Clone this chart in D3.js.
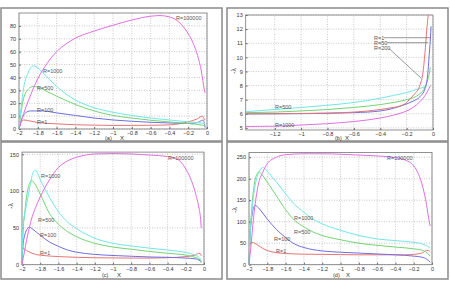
<!DOCTYPE html>
<html><head><meta charset="utf-8">
<script src="https://cdn.jsdelivr.net/npm/d3@7/dist/d3.min.js"></script>
<style>body{margin:0;background:#fff}svg{display:block}text{font-family:"Liberation Sans",Arial,sans-serif}</style>
</head><body><svg id="c" width="450" height="284"></svg>
<script>
// ---------- DATA ----------
const xTicksFull = [-2,-1.8,-1.6,-1.4,-1.2,-1,-0.8,-0.6,-0.4,-0.2,0];
const xTicksB = [-1.2,-1,-0.8,-0.6,-0.4,-0.2,0];
const yTicksA = [0,10,20,30,40,50,60,70,80];
const yTicksB = [5,6,7,8,9,10,11,12,13];
const yTicksC = [0,50,100,150];
const yTicksD = [0,50,100,150,200,250];

// panel (a)
const aR100000 = [[-2,0],[-1.95,12],[-1.9,22],[-1.85,31],[-1.8,39],[-1.7,51],[-1.6,60],[-1.5,66],[-1.4,70.5],[-1.2,76],[-1,80.5],[-0.8,84.5],[-0.6,87.5],[-0.5,88],[-0.4,87],[-0.3,83],[-0.2,74],[-0.15,67],[-0.1,57],[-0.06,45],[-0.03,31],[-0.02,28]];
const aR1000 = [[-2,0],[-1.98,15],[-1.95,32],[-1.9,44],[-1.85,49],[-1.82,48.5],[-1.75,44],[-1.6,33],[-1.4,22.5],[-1.2,16.5],[-1,13],[-0.8,10.5],[-0.6,8.5],[-0.4,7],[-0.2,5.5],[-0.05,4.5],[-0.02,4]];
const aR500 = [[-2,0],[-1.98,12],[-1.95,24],[-1.9,31],[-1.85,33],[-1.8,32.5],[-1.7,29],[-1.6,25.5],[-1.4,19],[-1.2,14],[-1,10.5],[-0.8,8.5],[-0.6,6.8],[-0.4,5.5],[-0.2,4.2],[-0.05,3],[-0.02,2.5]];
const aR100 = [[-2,0],[-1.97,8],[-1.93,12.5],[-1.88,14],[-1.75,14],[-1.6,12.5],[-1.4,10.5],[-1.2,8.5],[-1,7],[-0.8,6],[-0.6,5.2],[-0.4,4.7],[-0.2,4.3],[-0.1,5],[-0.06,6.5],[-0.04,7],[-0.02,1]];
const aR1 = [[-2,0],[-1.98,5],[-1.95,7],[-1.9,6.5],[-1.8,5],[-1.6,4],[-1.4,3.3],[-1.2,3],[-1,2.8],[-0.8,2.8],[-0.6,2.9],[-0.4,3.2],[-0.3,4],[-0.2,5.5],[-0.1,8],[-0.05,10],[-0.03,8],[-0.02,7]];

// panel (b)
const bR1 = [[-1.42,6.0],[-1.2,6.0],[-1,6.02],[-0.8,6.05],[-0.6,6.12],[-0.4,6.3],[-0.3,6.45],[-0.25,6.55],[-0.2,6.8],[-0.18,7],[-0.14,7.4],[-0.1,8],[-0.075,9],[-0.055,11],[-0.045,12.2],[-0.036,13]];
const bR50 = [[-1.42,5.99],[-1,6.01],[-0.6,6.08],[-0.4,6.2],[-0.2,6.7],[-0.15,6.9],[-0.1,7.2],[-0.06,7.8],[-0.04,8.8],[-0.03,10],[-0.02,11.3],[-0.015,12.2]];
const bR200 = [[-1.42,6.08],[-1.2,6.12],[-1,6.2],[-0.8,6.3],[-0.6,6.45],[-0.4,6.65],[-0.3,6.8],[-0.2,7.0],[-0.1,7.4],[-0.06,7.9],[-0.04,8.4],[-0.025,9.0],[-0.02,9.3]];
const bR500 = [[-1.42,6.15],[-1.2,6.3],[-1,6.45],[-0.8,6.6],[-0.6,6.8],[-0.4,7.1],[-0.3,7.3],[-0.2,7.5],[-0.15,7.65],[-0.1,7.8],[-0.05,7.95]];
const bR1000 = [[-1.42,5.1],[-1.2,5.12],[-1,5.2],[-0.8,5.3],[-0.6,5.45],[-0.4,5.7],[-0.3,5.9],[-0.2,6.2],[-0.15,6.45],[-0.1,6.85],[-0.06,7.3],[-0.03,7.8],[-0.02,8.0]];

// panel (c)
const cR100000 = [[-2,0],[-1.97,20],[-1.93,45],[-1.9,60],[-1.85,78],[-1.8,92],[-1.7,115],[-1.6,132],[-1.5,141],[-1.4,146],[-1.3,149],[-1.2,150.5],[-1,151],[-0.8,150.5],[-0.6,149],[-0.4,147],[-0.3,144],[-0.25,139],[-0.2,130],[-0.15,118],[-0.1,100],[-0.06,80],[-0.04,65],[-0.03,50]];
const cR1000 = [[-2,0],[-1.99,50],[-1.98,62],[-1.96,75],[-1.93,95],[-1.9,115],[-1.87,127],[-1.85,128],[-1.82,122],[-1.8,116],[-1.7,92],[-1.6,72],[-1.5,58],[-1.4,49],[-1.2,36],[-1,29],[-0.8,25.5],[-0.6,22.5],[-0.4,20],[-0.2,16.5],[-0.1,13],[-0.04,8],[-0.03,6]];
const cR500 = [[-2,0],[-1.99,40],[-1.97,70],[-1.94,100],[-1.91,112],[-1.89,114],[-1.86,110],[-1.8,96],[-1.7,70],[-1.6,55],[-1.5,45],[-1.4,38],[-1.2,29],[-1,24],[-0.8,21],[-0.6,18],[-0.4,15.5],[-0.2,13],[-0.1,10],[-0.04,6],[-0.03,4]];
const cR100 = [[-2,0],[-1.99,25],[-1.97,40],[-1.94,49],[-1.92,51],[-1.88,48],[-1.8,40],[-1.7,31],[-1.6,25],[-1.5,20],[-1.4,17],[-1.2,14],[-1,12.5],[-0.8,11.5],[-0.6,10.5],[-0.4,10],[-0.2,9],[-0.1,8],[-0.04,5],[-0.03,3]];
const cR1 = [[-2,0],[-1.99,23],[-1.97,21],[-1.93,18],[-1.85,14],[-1.8,13],[-1.6,11],[-1.4,10],[-1.2,9.5],[-1,9.2],[-0.8,9],[-0.6,9],[-0.4,9.5],[-0.2,11],[-0.1,13],[-0.06,15.5],[-0.04,15],[-0.03,12]];

// panel (d)
const dR100000 = [[-2,0],[-1.98,40],[-1.95,110],[-1.92,160],[-1.9,185],[-1.85,215],[-1.8,235],[-1.7,250],[-1.6,256],[-1.4,258],[-1.2,258],[-1,257],[-0.8,255],[-0.6,253],[-0.4,249],[-0.3,244],[-0.2,230],[-0.15,212],[-0.1,180],[-0.06,140],[-0.03,100],[-0.02,90]];
const dR1000 = [[-2,0],[-1.99,60],[-1.97,120],[-1.94,175],[-1.91,205],[-1.88,220],[-1.85,226],[-1.82,222],[-1.78,212],[-1.7,192],[-1.6,165],[-1.5,140],[-1.4,122],[-1.3,106],[-1.2,95],[-1,80],[-0.8,68],[-0.6,60],[-0.4,56],[-0.2,52],[-0.1,48],[-0.04,42],[-0.02,40]];
const dR500 = [[-2,0],[-1.99,60],[-1.97,130],[-1.94,190],[-1.91,212],[-1.89,216],[-1.86,210],[-1.8,192],[-1.7,160],[-1.6,128],[-1.5,103],[-1.4,88],[-1.3,76],[-1.2,68],[-1,58],[-0.8,50],[-0.6,45],[-0.4,41],[-0.2,37],[-0.1,33],[-0.04,25],[-0.02,20]];
const dR100 = [[-2,0],[-1.99,60],[-1.97,110],[-1.95,132],[-1.93,138],[-1.9,133],[-1.85,120],[-1.8,106],[-1.7,82],[-1.6,63],[-1.5,48],[-1.4,40],[-1.3,35],[-1.2,32],[-1,29],[-0.8,27],[-0.6,25],[-0.4,23],[-0.2,20],[-0.1,17],[-0.04,10],[-0.02,6]];
const dR1 = [[-2,0],[-1.99,50],[-1.97,52],[-1.94,50],[-1.9,45],[-1.85,38],[-1.8,33],[-1.7,28],[-1.6,26],[-1.4,24.5],[-1.2,24],[-1,23.5],[-0.8,23],[-0.6,23],[-0.4,23],[-0.3,23],[-0.2,24],[-0.1,28],[-0.06,33],[-0.04,33],[-0.02,29]];

const colors = {m:"#e26ee2", c:"#72e6e6", g:"#74d474", b:"#6f6fe0", r:"#e87474"};

// ---------- DRAW ----------
const svg = d3.select("#c");
const frames = [[1,8,221,133],[227,8,221,133],[1,142,221,137],[227,142,221,137]];
frames.forEach(f=>svg.append("rect").attr("x",f[0]).attr("y",f[1]).attr("width",f[2]).attr("height",f[3])
  .attr("fill","none").attr("stroke","#8a8a8a").attr("stroke-width",1.5));

function panel(o){
  const x = d3.scaleLinear().domain(o.xd).range(o.xr);
  const y = d3.scaleLinear().domain(o.yd).range(o.yr);
  const g = svg.append("g");
  g.selectAll(".gx").data(o.xt).join("line").attr("x1",d=>x(d)).attr("x2",d=>x(d))
    .attr("y1",o.yr[0]).attr("y2",o.yr[1]).attr("stroke","#b0b0b0").attr("stroke-width",0.7).attr("stroke-dasharray","1,1.5");
  g.selectAll(".gy").data(o.yt).join("line").attr("y1",d=>y(d)).attr("y2",d=>y(d))
    .attr("x1",o.xr[0]).attr("x2",o.xr[1]).attr("stroke","#b0b0b0").attr("stroke-width",0.7).attr("stroke-dasharray","1,1.5");
  const ax = g.append("g").attr("transform",`translate(0,${o.yr[0]})`)
    .call(d3.axisBottom(x).tickValues(o.xt).tickSize(-2).tickPadding(2).tickFormat(d=>d3.format("")(d)));
  const ay = g.append("g").attr("transform",`translate(${o.xr[0]},0)`)
    .call(d3.axisLeft(y).tickValues(o.yt).tickSize(-2).tickPadding(3));
  [ax,ay].forEach(a=>{a.select(".domain").remove(); a.selectAll("line").attr("stroke","#666");
    a.selectAll("text").attr("font-size",5.5).attr("fill","#333");});
  g.append("rect").attr("x",o.xr[0]).attr("y",o.yr[1]).attr("width",o.xr[1]-o.xr[0]).attr("height",o.yr[0]-o.yr[1])
    .attr("fill","none").attr("stroke","#777").attr("stroke-width",0.8);
  const line = d3.line().x(d=>x(d[0])).y(d=>y(d[1])).curve(d3.curveMonotoneX);
  o.series.forEach(s=>g.append("path").datum(s.d).attr("d",line).attr("fill","none")
    .attr("stroke",colors[s.c]).attr("stroke-width",1));
  o.labels.forEach(l=>g.append("text").attr("x",l[1]).attr("y",l[2]).attr("font-size",5.5).attr("fill","#555").text(l[0]));
  g.append("text").attr("x",o.cap[0]).attr("y",o.cap[1]).attr("font-size",5.5).attr("fill","#333").text(o.cap[2]);
  g.append("text").attr("x",o.cap[3]).attr("y",o.cap[1]).attr("font-size",6).attr("fill","#333").text("X");
  if(o.yl) g.append("text").attr("transform",`translate(${o.yl[0]},${o.yl[1]}) rotate(-90)`)
    .attr("text-anchor","middle").attr("font-size",6.5).attr("fill","#333").text("-λ");
  return {x,y,g};
}

panel({xd:[-2,0],xr:[19,207],yd:[0,90],yr:[129,13],xt:xTicksFull,yt:yTicksA,
  series:[{d:aR1,c:"r"},{d:aR100,c:"b"},{d:aR500,c:"g"},{d:aR1000,c:"c"},{d:aR100000,c:"m"}],
  labels:[["R=100000",176,20],["R=1000",43,73],["R=500",37,90],["R=100",37,112],["R=1",37,124]],
  cap:[105,139.5,"(a)",120]});

const pb = panel({xd:[-1.42,0],xr:[245.7,433],yd:[4.85,13],yr:[130,15],xt:xTicksB,yt:yTicksB,
  series:[{d:bR1000,c:"m"},{d:bR500,c:"c"},{d:bR200,c:"g"},{d:bR50,c:"b"},{d:bR1,c:"r"}],
  labels:[["R=500",275,109],["R=1000",275,127],["R=1",374,39.5],["R=50",374,44.5],["R=200",374,50]],
  cap:[335,139.5,"(b)",345], yl:[236,71]});
[[384,37.7,430,37.7],[387,42.7,428,42.7],[389,48.5,421,78]].forEach(l=>pb.g.append("line")
  .attr("x1",l[0]).attr("y1",l[1]).attr("x2",l[2]).attr("y2",l[3]).attr("stroke","#555").attr("stroke-width",0.6));

panel({xd:[-2,0],xr:[22,204],yd:[0,153],yr:[264.7,152.1],xt:xTicksFull,yt:yTicksC,
  series:[{d:cR1,c:"r"},{d:cR100,c:"b"},{d:cR500,c:"g"},{d:cR1000,c:"c"},{d:cR100000,c:"m"}],
  labels:[["R=100000",168,160],["R=1000",41,178],["R=500",38,222],["R=100",40,237],["R=1",40,255]],
  cap:[102,277,"(c)",117], yl:[13,206]});

panel({xd:[-2,0],xr:[249,432],yd:[0,261],yr:[264.7,152.5],xt:xTicksFull,yt:yTicksD,
  series:[{d:dR1,c:"r"},{d:dR100,c:"b"},{d:dR500,c:"g"},{d:dR1000,c:"c"},{d:dR100000,c:"m"}],
  labels:[["R=100000",387,160],["R=1000",294,220],["R=500",294,234],["R=100",274,241],["R=1",276,253]],
  cap:[333,277,"(d)",346], yl:[237,210]});
</script></body></html>
